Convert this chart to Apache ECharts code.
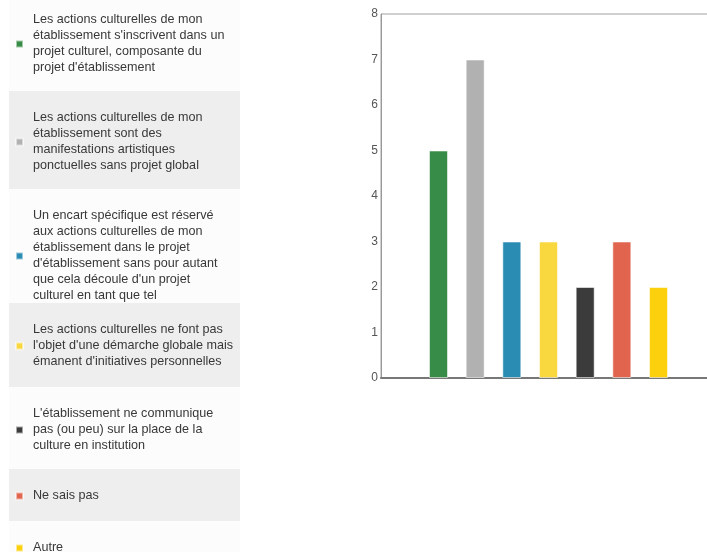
<!DOCTYPE html>
<html>
<head>
<meta charset="utf-8">
<script src="https://cdn.jsdelivr.net/npm/echarts@6/dist/echarts.min.js"></script>
<style>html,body{margin:0;padding:0;background:#fff;}#c{width:707px;height:552px;}</style>
</head>
<body>
<div id="c"></div>
<script>
// ---- data ----
var categories = [
  "Les actions culturelles de mon établissement s'inscrivent dans un projet culturel, composante du projet d'établissement",
  "Les actions culturelles de mon établissement sont des manifestations artistiques ponctuelles sans projet global",
  "Un encart spécifique est réservé aux actions culturelles de mon établissement dans le projet d'établissement sans pour autant que cela découle d'un projet culturel en tant que tel",
  "Les actions culturelles ne font pas l'objet d'une démarche globale mais émanent d'initiatives personnelles",
  "L'établissement ne communique pas (ou peu) sur la place de la culture en institution",
  "Ne sais pas",
  "Autre"
];
var legendLabels = [
  "Les actions culturelles de mon\nétablissement s'inscrivent dans un\nprojet culturel, composante du\nprojet d'établissement",
  "Les actions culturelles de mon\nétablissement sont des\nmanifestations artistiques\nponctuelles sans projet global",
  "Un encart spécifique est réservé\naux actions culturelles de mon\nétablissement dans le projet\nd'établissement sans pour autant\nque cela découle d'un projet\nculturel en tant que tel",
  "Les actions culturelles ne font pas\nl'objet d'une démarche globale mais\némanent d'initiatives personnelles",
  "L'établissement ne communique\npas (ou peu) sur la place de la\nculture en institution",
  "Ne sais pas",
  "Autre"
];
var values = [5, 7, 3, 3, 2, 3, 2];
var colors = ['#378c47', '#b1b1b1', '#2a8bb3', '#f9d83f', '#3b3b3b', '#e1644f', '#fdd00e'];
var yTicks = [0, 1, 2, 3, 4, 5, 6, 7, 8];

// ---- layout ----
var boxTop = [0, 91, 189, 303, 387, 469, 521];
var boxPadTop = [12, 19, 19, 19, 19, 19, 19];
var boxPadBottom = [15, 15, 0, 17, 15, 17, 0];
var boxBg = ['#fcfcfc', '#eeeeee', '#fcfcfc', '#eeeeee', '#fcfcfc', '#eeeeee', '#fcfcfc'];
var FONT = 'Arial, "Liberation Sans", sans-serif';

var labelMap = {};
categories.forEach(function (c, i) { labelMap[c] = legendLabels[i]; });

var legends = categories.map(function (name, i) {
  return {
    data: [name],
    orient: 'vertical',
    left: 9,
    top: boxTop[i],
    icon: 'rect',
    itemWidth: 7,
    itemHeight: 7,
    itemGap: 0,
    selectedMode: false,
    padding: [boxPadTop[i], 6, boxPadBottom[i], 6],
    backgroundColor: boxBg[i],
    formatter: function (n) { return labelMap[n]; },
    textStyle: {
      width: 201,
      fontSize: 12.6,
      lineHeight: 16,
      color: '#383838',
      fontFamily: FONT,
      padding: [0, 0, 0, 5]
    }
  };
});

var series = categories.map(function (name, i) {
  return {
    name: name,
    type: 'bar',
    data: [values[i]],
    barWidth: 19,
    barGap: '93%',
    itemStyle: {
      color: colors[i],
      borderColor: 'rgba(255,255,255,0.55)',
      borderWidth: 1
    },
    emphasis: { disabled: true }
  };
});

var chart = echarts.init(document.getElementById('c'), null, { renderer: 'canvas' });
chart.setOption({
  animation: false,
  color: colors,
  legend: legends,
  grid: {
    left: 381, top: 14, width: 335, height: 364,
    outerBoundsMode: 'none',
    containLabel: false,
    show: true, borderColor: '#a0a0a0', borderWidth: 1, backgroundColor: 'transparent'
  },
  xAxis: {
    type: 'category',
    data: [''],
    axisLine: { show: true, lineStyle: { color: '#777', width: 2 } },
    axisTick: { show: false },
    axisLabel: { show: false },
    splitLine: { show: false }
  },
  yAxis: {
    type: 'value',
    min: yTicks[0],
    max: yTicks[yTicks.length - 1],
    interval: 1,
    axisLine: { show: true, lineStyle: { color: '#999', width: 1 } },
    axisTick: { show: false },
    splitLine: { show: false },
    axisLabel: { color: '#555', fontSize: 12, fontFamily: FONT, margin: 3 }
  },
  series: series
});
</script>
</body>
</html>
